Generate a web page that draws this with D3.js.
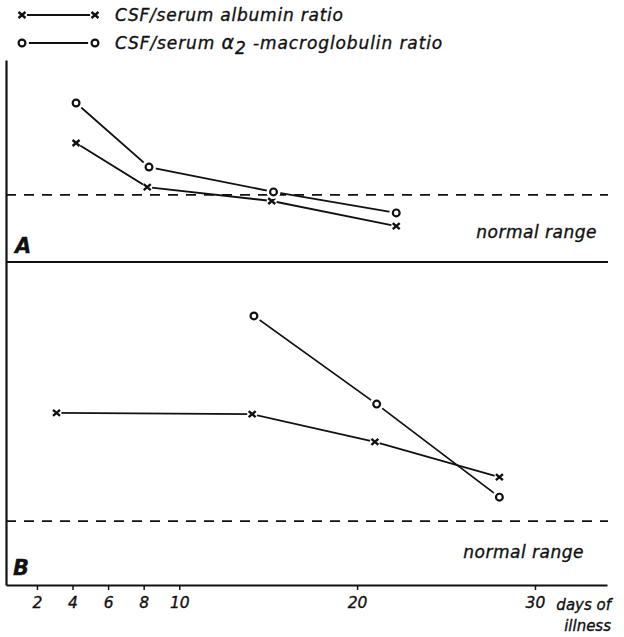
<!DOCTYPE html>
<html>
<head>
<meta charset="utf-8">
<script src="https://cdn.jsdelivr.net/npm/d3@7"></script>
<style>
  body { margin: 0; background: #fff; }
  text { font-family: "DejaVu Sans", sans-serif; font-style: italic; fill: #111; stroke: #111; stroke-width: 0.35px; }
</style>
</head>
<body>
<div id="chart"></div>
<script>
// values (arbitrary ratio units, 0-100 per panel)
const tickDays = [2, 4, 6, 8, 10, 20, 30];

const albuminDaysA = [4.2, 8.2, 15.2, 22.2];
const albuminA = [58.9, 37.1, 30.2, 17.8];
const macroDaysA = [4.2, 8.3, 15.3, 22.2];
const macroA = [78.7, 47.0, 34.7, 24.3];

const albuminDaysB = [3.1, 14.1, 21.0, 28.0];
const albuminB = [53.3, 52.9, 44.3, 33.4];
const macroDaysB = [14.2, 21.1, 28.0];
const macroB = [83.3, 56.0, 27.2];

const normalA = 33.2;
const normalB = 19.8;

const legendLabels = ["CSF/serum albumin ratio", "CSF/serum ", "α", "2", " -macroglobulin ratio"];

const width = 624, height = 637;
const svg = d3.select("#chart").append("svg")
    .attr("width", width).attr("height", height);

// scales
const x = d3.scaleLinear().domain([0.26, 34.05]).range([6, 607]);
const yA = d3.scaleLinear().domain([0, 100]).range([262, 60]);
const yB = d3.scaleLinear().domain([0, 100]).range([585, 262]);
const yAll = d3.scaleLinear().domain([0, 100]).range([585, 60]);

// bottom axis
const xAxis = svg.append("g")
    .attr("transform", "translate(0,585)")
    .call(d3.axisBottom(x).tickValues(tickDays).tickSize(5).tickSizeOuter(0).tickPadding(7));
xAxis.select(".domain").attr("stroke", "#111").attr("stroke-width", 2.2);
xAxis.selectAll(".tick line").attr("stroke", "#111").attr("stroke-width", 1.5);
xAxis.selectAll(".tick text")
    .style("font-family", "DejaVu Sans").style("font-style", "italic")
    .attr("font-size", 15.5).attr("fill", "#111");

// left axis (plain line)
const yAxis = svg.append("g")
    .attr("transform", "translate(6,0)")
    .call(d3.axisLeft(yAll).tickValues([]).tickSizeOuter(0));
yAxis.select(".domain").attr("stroke", "#111").attr("stroke-width", 2.2);

// panel separator
svg.append("line")
    .attr("x1", x.range()[0]).attr("x2", 608)
    .attr("y1", yA(0)).attr("y2", yA(0))
    .attr("stroke", "#111").attr("stroke-width", 2.2);

// normal range dashed lines
[[yA, normalA], [yB, normalB]].forEach(([y, v]) => {
    svg.append("line")
        .attr("x1", x.range()[0]).attr("x2", 608)
        .attr("y1", y(v)).attr("y2", y(v))
        .attr("stroke", "#111").attr("stroke-width", 1.8)
        .attr("stroke-dasharray", "10,8");
});

svg.append("text").attr("x", 597).attr("y", 238).attr("text-anchor", "end")
    .attr("font-size", 17).attr("letter-spacing", 0.5).text("normal range");
svg.append("text").attr("x", 584).attr("y", 558).attr("text-anchor", "end")
    .attr("font-size", 17).attr("letter-spacing", 0.5).text("normal range");

svg.append("text").attr("x", 15).attr("y", 253)
    .attr("font-size", 21).attr("font-weight", "bold").text("A");
svg.append("text").attr("x", 13).attr("y", 575)
    .attr("font-size", 21).attr("font-weight", "bold").text("B");

svg.append("text").attr("x", 611).attr("y", 610).attr("text-anchor", "end")
    .attr("font-size", 15).text("days of");
svg.append("text").attr("x", 611).attr("y", 631).attr("text-anchor", "end")
    .attr("font-size", 15).text("illness");

// series
const line = (y) => d3.line().x(d => x(d[0])).y(d => y(d[1]));

function drawCross(g, cx, cy) {
    g.append("circle").attr("cx", cx).attr("cy", cy).attr("r", 5).attr("fill", "#fff");
    g.append("path")
        .attr("d", `M${cx - 3.5},${cy - 3}L${cx + 3.5},${cy + 3}M${cx - 3.5},${cy + 3}L${cx + 3.5},${cy - 3}`)
        .attr("stroke", "#111").attr("stroke-width", 2.4);
}
function drawCircle(g, cx, cy) {
    g.append("circle").attr("cx", cx).attr("cy", cy).attr("r", 7).attr("fill", "#fff");
    g.append("circle").attr("cx", cx).attr("cy", cy).attr("r", 3.4)
        .attr("fill", "#fff").attr("stroke", "#111").attr("stroke-width", 2.2);
}

const series = [
    { days: albuminDaysA, vals: albuminA, y: yA, marker: drawCross },
    { days: macroDaysA, vals: macroA, y: yA, marker: drawCircle },
    { days: albuminDaysB, vals: albuminB, y: yB, marker: drawCross },
    { days: macroDaysB, vals: macroB, y: yB, marker: drawCircle }
];

series.forEach(s => {
    const pts = s.days.map((d, i) => [d, s.vals[i]]);
    svg.append("path").datum(pts)
        .attr("fill", "none").attr("stroke", "#111").attr("stroke-width", 1.8)
        .attr("d", line(s.y));
});
series.forEach(s => {
    const g = svg.append("g");
    s.days.forEach((d, i) => s.marker(g, x(d), s.y(s.vals[i])));
});

// legend
const leg = svg.append("g");
[[15, drawCross], [43, drawCircle]].forEach(([ly, m]) => {
    leg.append("line").attr("x1", 22).attr("x2", 95).attr("y1", ly).attr("y2", ly)
        .attr("stroke", "#111").attr("stroke-width", 1.8);
    m(leg, 22, ly);
    m(leg, 95, ly);
});
leg.append("text").attr("x", 115).attr("y", 21).attr("font-size", 17)
    .attr("textLength", 228).attr("lengthAdjust", "spacing").text(legendLabels[0]);
const t2 = leg.append("text").attr("x", 115).attr("y", 49).attr("font-size", 17)
    .attr("letter-spacing", 0.9);
t2.append("tspan").text(legendLabels[1]);
t2.append("tspan").attr("font-size", 19).text(legendLabels[2]);
t2.append("tspan").attr("dy", 5).text(legendLabels[3]);
t2.append("tspan").attr("dy", -5).text(legendLabels[4]);
</script>
</body>
</html>
